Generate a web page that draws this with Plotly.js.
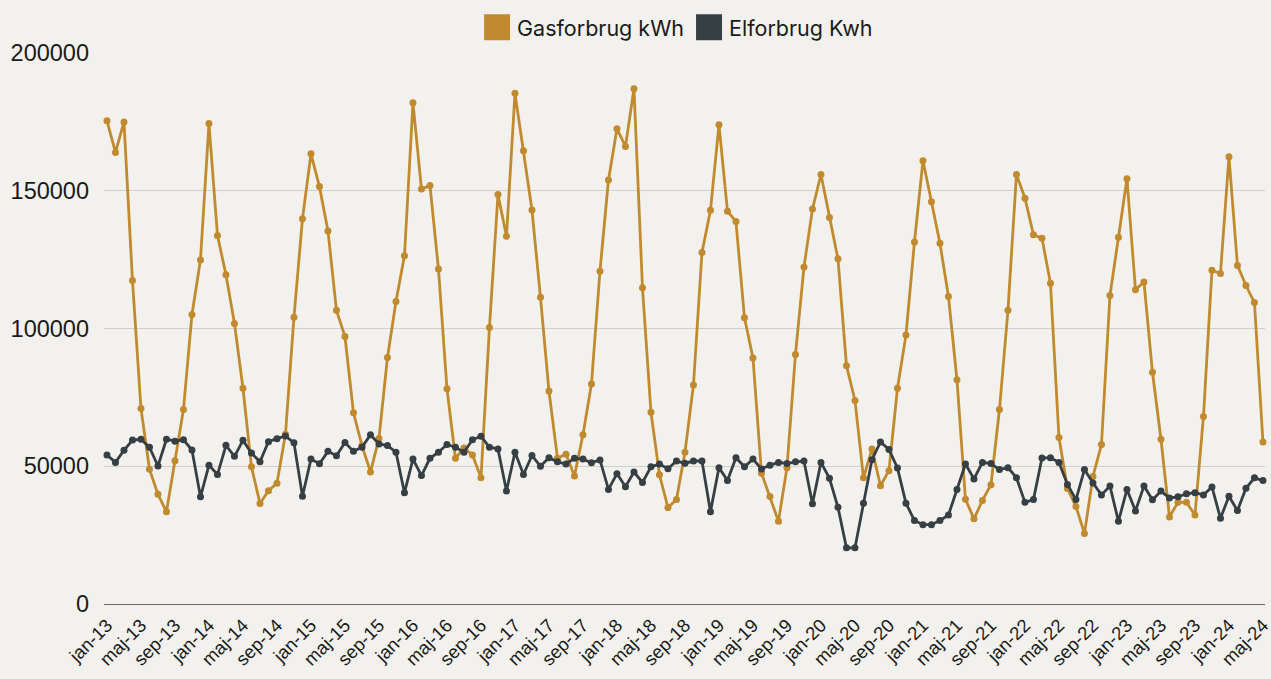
<!DOCTYPE html>
<html>
<head>
<meta charset="utf-8">
<script src="https://cdn.plot.ly/plotly-3.0.1.min.js"></script>
<style>
  html, body { margin: 0; padding: 0; background: #F2F1ED; }
  #chart { width: 1271px; height: 679px; }
</style>
</head>
<body>
<div id="chart"></div>
<script>
// Month names (Danish) and years used to build the category labels
const monthNames = ["jan", "feb", "mar", "apr", "maj", "jun", "jul", "aug", "sep", "okt", "nov", "dec"];
const years = ["13", "14", "15", "16", "17", "18", "19", "20", "21", "22", "23", "24"];

// Gasforbrug kWh, jan-13 .. maj-24
const gas2013 = [175400, 163900, 175000, 117400, 71000, 48900, 39800, 33500, 52000, 70600, 105100, 124900];
const gas2014 = [174400, 133800, 119500, 101800, 78300, 49800, 36500, 41100, 43800, 61600, 104100, 139800];
const gas2015 = [163400, 151500, 135400, 106600, 97100, 69400, 57500, 47900, 60100, 89500, 109800, 126400];
const gas2016 = [181900, 150600, 151900, 121600, 78100, 52900, 56600, 54100, 45800, 100400, 148600, 133500];
const gas2017 = [185400, 164500, 143000, 111300, 77300, 52900, 54400, 46500, 61400, 79900, 120800, 153900];
const gas2018 = [172500, 166100, 187000, 114800, 69600, 46900, 35000, 37900, 55100, 79500, 127600, 142900];
const gas2019 = [174000, 142600, 138800, 103900, 89300, 47500, 39000, 30000, 49500, 90600, 122300, 143400];
const gas2020 = [155900, 140300, 125300, 86500, 73900, 45800, 56300, 42900, 48400, 78300, 97600, 131400];
const gas2021 = [160900, 146000, 130900, 111600, 81400, 38000, 30900, 37600, 43300, 70600, 106600, 155900];
const gas2022 = [147300, 134000, 132800, 116400, 60400, 41900, 35400, 25600, 46300, 57900, 112000, 133100];
const gas2023 = [154400, 114100, 116900, 84100, 59800, 31600, 36900, 36900, 32300, 68100, 121100, 120000];
const gas2024 = [162300, 122900, 115600, 109400, 58800];

// Elforbrug Kwh, jan-13 .. maj-24
const el2013 = [54100, 51400, 55800, 59500, 59800, 56900, 50100, 59800, 59100, 59600, 55900, 38900];
const el2014 = [50400, 47000, 57600, 53600, 59400, 54800, 51600, 58900, 60000, 61000, 58500, 39100];
const el2015 = [52600, 50900, 55400, 53800, 58600, 55400, 56900, 61400, 58100, 57500, 55100, 40400];
const el2016 = [52600, 46600, 52900, 55100, 57900, 56900, 55100, 59600, 60900, 56900, 56300, 41000];
const el2017 = [55100, 47000, 53900, 50000, 53100, 51600, 50800, 52900, 52600, 51300, 52300, 41600];
const el2018 = [47300, 42600, 47900, 44100, 49800, 50800, 49100, 51900, 51100, 51900, 51900, 33500];
const el2019 = [49500, 44800, 53100, 49800, 52600, 49000, 50400, 51400, 51000, 51600, 51900, 36400];
const el2020 = [51400, 45600, 35100, 20400, 20400, 36600, 52400, 58800, 56100, 49400, 36600, 30300];
const el2021 = [28800, 28800, 30300, 32300, 41600, 50800, 45400, 51400, 51000, 48800, 49500, 45800];
const el2022 = [36900, 37900, 53000, 53100, 51400, 43400, 37900, 48800, 43900, 39600, 42800, 30000];
const el2023 = [41600, 33800, 42800, 37800, 41000, 38500, 38900, 40000, 40400, 39600, 42500, 31100];
const el2024 = [39100, 33900, 42000, 45800, 44800];

const seriesNames = ["Gasforbrug kWh", "Elforbrug Kwh"];
const yTickVals = [0, 50000, 100000, 150000, 200000];

const gas = [].concat(gas2013, gas2014, gas2015, gas2016, gas2017, gas2018, gas2019, gas2020, gas2021, gas2022, gas2023, gas2024);
const el = [].concat(el2013, el2014, el2015, el2016, el2017, el2018, el2019, el2020, el2021, el2022, el2023, el2024);

const categories = [];
years.forEach(y => monthNames.forEach(m => categories.push(m + "-" + y)));
categories.length = gas.length;
const tickCats = categories.filter((c, i) => i % 4 === 0);

const GOLD = "#C18A2F";
const DARK = "#353F44";

const traces = [
  { x: categories, y: gas, type: "scatter", mode: "lines+markers", name: seriesNames[0],
    line: { color: GOLD, width: 2.8 }, marker: { color: GOLD, size: 7 }, showlegend: false, cliponaxis: false },
  { x: categories, y: el, type: "scatter", mode: "lines+markers", name: seriesNames[1],
    line: { color: DARK, width: 2.8 }, marker: { color: DARK, size: 7 }, showlegend: false, cliponaxis: false },
  { x: [null], y: [null], type: "scatter", mode: "markers", name: seriesNames[0],
    marker: { color: GOLD, size: 26, symbol: "square" }, hoverinfo: "skip" },
  { x: [null], y: [null], type: "scatter", mode: "markers", name: seriesNames[1],
    marker: { color: DARK, size: 26, symbol: "square" }, hoverinfo: "skip" }
];

const layout = {
  width: 1271, height: 679,
  paper_bgcolor: "#F2F1ED", plot_bgcolor: "#F2F1ED",
  margin: { l: 104, r: 6, t: 53, b: 75 },
  font: { family: "Liberation Sans, Arial, sans-serif", color: "#1a1a1a" },
  showlegend: true,
  legend: { orientation: "h", x: 0.494, xanchor: "center", y: 0.96, yref: "container", yanchor: "middle",
            font: { family: "Inter, Roboto, sans-serif", size: 21.5, color: "#1a1a1a" },
            itemwidth: 30, bgcolor: "rgba(0,0,0,0)" },
  xaxis: {
    type: "category", categoryorder: "array", categoryarray: categories,
    range: [-0.35, categories.length - 1 + 0.24],
    tickmode: "array", tickvals: tickCats, ticktext: tickCats,
    tickangle: -45, tickfont: { size: 18.5, color: "#1a1a1a" },
    showgrid: false, showline: true, linecolor: "#6b6b6b", linewidth: 1.3,
    ticks: "", automargin: false, zeroline: false, ticklabelstandoff: 2
  },
  yaxis: {
    range: [0, 200000], tickmode: "array", tickvals: yTickVals,
    tickformat: "d", tickfont: { size: 23.5, color: "#1a1a1a" },
    showgrid: true, gridcolor: "#D2D0CB", gridwidth: 1.3,
    zeroline: true, zerolinecolor: "#6b6b6b", zerolinewidth: 1.3,
    ticks: "", ticklabelstandoff: 14, automargin: false
  }
};

Plotly.newPlot("chart", traces, layout, { staticPlot: true }).then(() => {
  document.querySelectorAll(".legend .legendpoints path.scatterpts").forEach(p => {
    const t = p.getAttribute("transform") || "";
    p.setAttribute("transform", t + " scale(1.625)");
  });
});
</script>
</body>
</html>
